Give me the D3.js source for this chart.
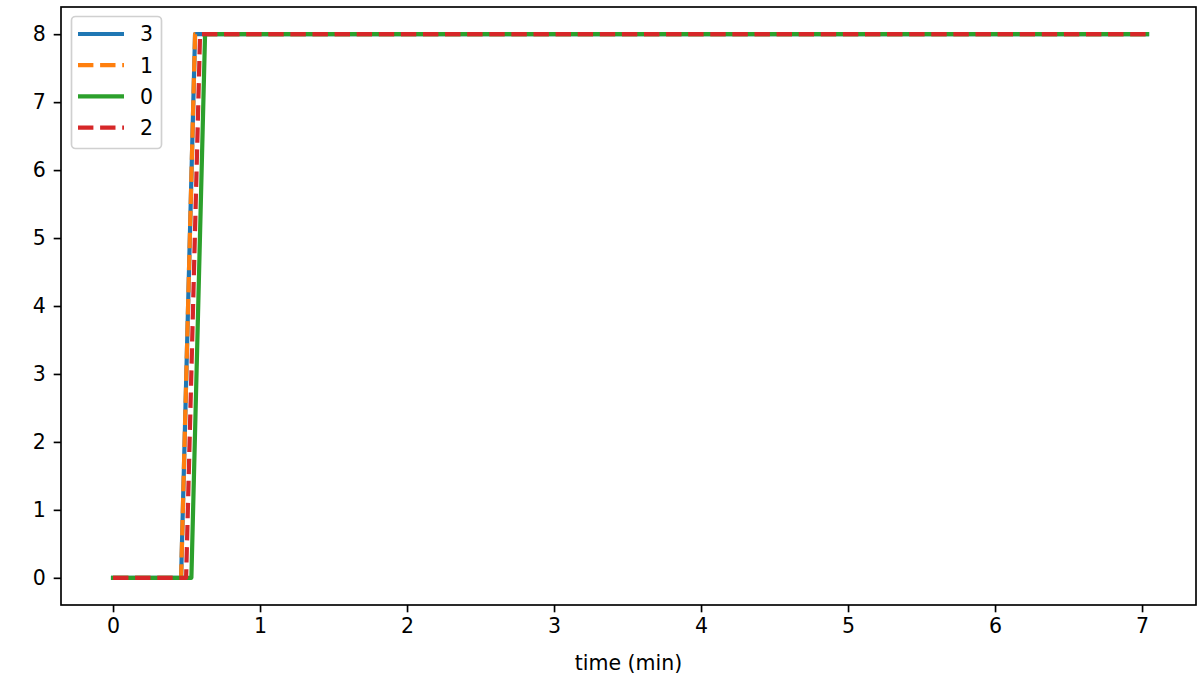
<!DOCTYPE html>
<html><head><meta charset="utf-8">
<script src="https://cdn.jsdelivr.net/npm/d3@7/dist/d3.min.js"></script>
<style>body{margin:0;background:#fff;} text{font-family:"DejaVu Sans",sans-serif;}</style>
</head><body><svg id="c" width="1198" height="680"></svg>
<script>
// Series (legend order), time in minutes and values
const seriesNames = ["3", "1", "0", "2"];
const seriesColors = ["#1f77b4", "#ff7f0e", "#2ca02c", "#d62728"];
const seriesDashed = [false, true, false, true];
const time3 = [0, 0.463, 0.558, 7.034];
const vals3 = [0, 0, 8, 8];
const time1 = [0, 0.463, 0.558, 7.034];
const vals1 = [0, 0, 8, 8];
const time0 = [0, 0.533, 0.626, 7.034];
const vals0 = [0, 0, 8, 8];
const time2 = [0, 0.497, 0.592, 7.034];
const vals2 = [0, 0, 8, 8];
const xTicks = [0, 1, 2, 3, 4, 5, 6, 7];
const yTicks = [0, 1, 2, 3, 4, 5, 6, 7, 8];
const xLabel = "time (min)";

const seriesTimes = [time3, time1, time0, time2];
const seriesVals = [vals3, vals1, vals0, vals2];

const L = 61, R = 1196, T = 7, B = 605;
const svg = d3.select("#c");
const x = d3.scaleLinear().domain([-0.354, 7.367]).range([L, R]);
const y = d3.scaleLinear().domain([-0.4, 8.4]).range([B, T]);

const fs = 20.5;
// lines
const line = d3.line().x(d => x(d[0])).y(d => y(d[1]));
seriesNames.forEach((n, i) => {
  const pts = seriesTimes[i].map((t, j) => [t, seriesVals[i][j]]);
  svg.append("path").attr("d", line(pts)).attr("fill", "none")
    .attr("stroke", seriesColors[i]).attr("stroke-width", 4.2)
    .attr("stroke-linejoin", "round").attr("stroke-linecap", seriesDashed[i] ? "butt" : "square")
    .attr("stroke-dasharray", seriesDashed[i] ? "15.4,6.7" : null);
});

// axes
const xAxis = svg.append("g").attr("transform", `translate(0,${B})`)
  .call(d3.axisBottom(x).tickValues(xTicks).tickFormat(d3.format("d")).tickSizeOuter(0).tickSize(7.3).tickPadding(6));
const yAxis = svg.append("g").attr("transform", `translate(${L},0)`)
  .call(d3.axisLeft(y).tickValues(yTicks).tickFormat(d3.format("d")).tickSizeOuter(0).tickSize(7.3).tickPadding(8));
[xAxis, yAxis].forEach(g => {
  g.select(".domain").remove();
  g.selectAll(".tick line").attr("stroke", "#000").attr("stroke-width", 1.67);
  g.selectAll("text").attr("font-size", fs).attr("fill", "#000").attr("font-family", "DejaVu Sans");
});
// spines
svg.append("rect").attr("x", L).attr("y", T).attr("width", R - L).attr("height", B - T)
  .attr("fill", "none").attr("stroke", "#000").attr("stroke-width", 1.67);

svg.append("text").attr("x", (L + R) / 2).attr("y", 670).attr("text-anchor", "middle")
  .attr("font-size", fs).text(xLabel);

// legend
const lg = svg.append("g");
lg.append("rect").attr("x", 71.5).attr("y", 16.5).attr("width", 90).attr("height", 132).attr("rx", 4)
  .attr("fill", "#fff").attr("fill-opacity", 0.8).attr("stroke", "#d0d0d0").attr("stroke-width", 1.67);
seriesNames.forEach((n, i) => {
  const yy = 34 + i * 31.2;
  lg.append("line").attr("x1", 78).attr("x2", 124).attr("y1", yy).attr("y2", yy)
    .attr("stroke", seriesColors[i]).attr("stroke-width", 4.2)
    .attr("stroke-dasharray", seriesDashed[i] ? "15.4,6.7" : null);
  lg.append("text").attr("x", 140).attr("y", yy).attr("dy", "0.36em").attr("font-size", fs).text(n);
});
</script></body></html>
